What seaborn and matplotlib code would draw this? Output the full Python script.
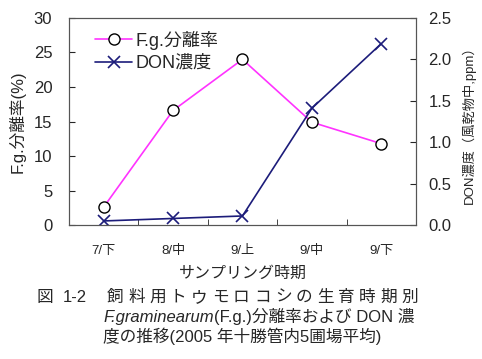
import numpy as np
import pandas as pd
import matplotlib
matplotlib.use("Agg")
import matplotlib.pyplot as plt
import seaborn as sns

# data
periods = ["7/下", "8/中", "9/上", "9/中", "9/下"]
fg_rate = [2.6, 16.6, 24.0, 14.9, 11.8]      # F.g.分離率 (%)
don_conc = [0.05, 0.08, 0.11, 1.41, 2.19]    # DON濃度 (ppm)

sns.set_style("ticks")
plt.rcParams["font.family"] = ["Liberation Sans", "Noto Sans CJK JP", "DejaVu Sans"]

df = pd.DataFrame({"period": periods, "fg": fg_rate, "don": don_conc})
pos = np.arange(len(periods))

fig = plt.figure(figsize=(4.82, 3.59), dpi=100)
ax = fig.add_axes([0.143, 0.373, 0.720, 0.577])
ax2 = ax.twinx()

pink = "#FF33FF"
navy = "#1C1C7A"

sns.lineplot(x=pos, y=df["fg"], ax=ax, color=pink, lw=1.2, marker="o", markersize=8,
             markerfacecolor="white", markeredgecolor="black", markeredgewidth=1.0,
             label="F.g.分離率", legend=False, zorder=3)
sns.lineplot(x=pos, y=df["don"], ax=ax2, color=navy, lw=1.2, marker="x", markersize=9,
             markeredgecolor=navy, markeredgewidth=1.2, label="DON濃度", legend=False)

ax.set_xlim(-0.5, 4.5)
ax.set_ylim(0, 30)
ax2.set_ylim(0, 2.5)
ax.set_yticks(range(0, 31, 5))
ax2.set_yticks(np.arange(0, 2.51, 0.5))
ax2.set_yticklabels([f"{v:.1f}" for v in np.arange(0, 2.51, 0.5)])
ax.set_xticks(pos)
ax.set_xticklabels(periods, fontsize=9.5)
ax.set_xticks(np.arange(-0.5, 4.6, 1), minor=True)
ax.tick_params(axis="x", which="major", length=0, pad=14)
ax.tick_params(axis="x", which="minor", direction="in", length=4)
ax.tick_params(axis="y", direction="in", length=4, labelsize=12, pad=12)
ax2.tick_params(axis="y", direction="in", length=4, labelsize=12, pad=9)
ax.set_xlabel("サンプリング時期", fontsize=11.5, labelpad=7)
ax.set_ylabel("F.g.分離率(%)", fontsize=12, labelpad=6)
ax2.set_ylabel("DON濃度（風乾物中,ppm）", fontsize=9.5, labelpad=7)
for a in (ax, ax2):
    for s in a.spines.values():
        s.set_color("#555555")
        s.set_linewidth(0.8)

h1, l1 = ax.get_legend_handles_labels()
h2, l2 = ax2.get_legend_handles_labels()
ax.legend(h1 + h2, l1 + l2, loc="upper left", bbox_to_anchor=(0.04, 1.0), frameon=False,
          fontsize=13, handlelength=2.0, handletextpad=0.2, labelspacing=0.3,
          borderaxespad=0.3)

# caption
cap_fs = 12
y1, y2, y3 = 1 - 302 / 359, 1 - 322 / 359, 1 - 342 / 359
fig.text(37 / 482, y1, "図", fontsize=cap_fs, va="baseline")
fig.text(63 / 482, y1, "1-2", fontsize=cap_fs, va="baseline")
chars = "飼料用トウモロコシの生育時期別"
for i, c in enumerate(chars):
    fig.text((107 + i * 21.0) / 482, y1, c, fontsize=cap_fs, va="baseline")

t = fig.text(103 / 482, y2, "F.graminearum", fontsize=cap_fs, style="italic", va="baseline")
fig.canvas.draw()
bb = t.get_window_extent()
fig.text(bb.x1 / fig.bbox.width, y2, "(F.g.)分離率および DON 濃",
         fontsize=cap_fs, va="baseline")
fig.text(103 / 482, y3, "度の推移(2005 年十勝管内5圃場平均)", fontsize=cap_fs,
         va="baseline")

fig.savefig("out.png", dpi=100)
